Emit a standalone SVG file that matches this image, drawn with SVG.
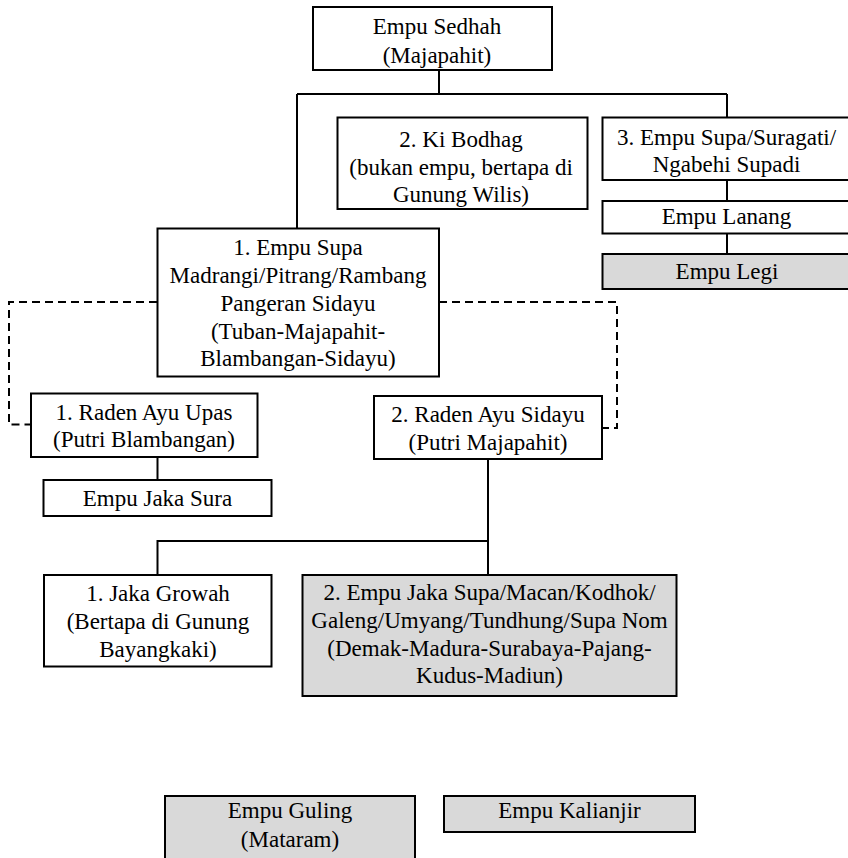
<svg xmlns="http://www.w3.org/2000/svg" width="848" height="858" viewBox="0 0 848 858">
<style>
.box{fill:#ffffff;stroke:#000;stroke-width:2}
.gray{fill:#d9d9d9}
.ln{stroke:#000;stroke-width:2;fill:none}
.dash{stroke-dasharray:8 5}
text{font-family:'Liberation Serif','Times New Roman',serif;font-size:23px;text-anchor:middle;fill:#000}
</style>
<rect width="848" height="858" fill="#ffffff"/>
<g id="connectors">
<path class="ln" d="M439 70V94M297 94H727M297 94V228M727 94V117"/>
<path class="ln" d="M727 180V201M727 233V254"/>
<path class="ln dash" d="M157 302H9V424.5H31M439 302H617V428H602"/>
<path class="ln" d="M157.5 457V480"/>
<path class="ln" d="M488 459V575M488 541H157.5V575"/>
</g>
<g id="n-sedhah">
<rect class="box" x="313" y="7" width="239" height="63"/>
<text x="437" y="34">Empu Sedhah</text>
<text x="437" y="62.5">(Majapahit)</text>
</g>
<g id="n-bodhag">
<rect class="box" x="337.5" y="117.5" width="250" height="91.5"/>
<text x="461" y="146.5">2. Ki Bodhag</text>
<text x="461" y="175">(bukan empu, bertapa di</text>
<text x="461" y="202">Gunung Wilis)</text>
</g>
<g id="n-supa3">
<rect class="box" x="602.5" y="117.5" width="247" height="62.5"/>
<text x="726.5" y="144.5">3. Empu Supa/Suragati/</text>
<text x="726.5" y="171.5">Ngabehi Supadi</text>
</g>
<g id="n-lanang">
<rect class="box" x="602.5" y="201" width="247" height="32.5"/>
<text x="726.5" y="224">Empu Lanang</text>
</g>
<g id="n-legi">
<rect class="box gray" x="602.5" y="254" width="247" height="35"/>
<text x="727" y="278.5">Empu Legi</text>
</g>
<g id="n-supa1">
<rect class="box" x="157.5" y="228.5" width="281.5" height="148"/>
<text x="298" y="255">1. Empu Supa</text>
<text x="298" y="283">Madrangi/Pitrang/Rambang</text>
<text x="298" y="310.5">Pangeran Sidayu</text>
<text x="298" y="338.5">(Tuban-Majapahit-</text>
<text x="298" y="366">Blambangan-Sidayu)</text>
</g>
<g id="n-upas">
<rect class="box" x="31" y="393.5" width="226.5" height="63.5"/>
<text x="144" y="419.5">1. Raden Ayu Upas</text>
<text x="144" y="447">(Putri Blambangan)</text>
</g>
<g id="n-sidayu">
<rect class="box" x="374" y="396" width="228" height="63"/>
<text x="488" y="422">2. Raden Ayu Sidayu</text>
<text x="488" y="449.5">(Putri Majapahit)</text>
</g>
<g id="n-jakasura">
<rect class="box" x="43.5" y="480" width="228" height="36"/>
<text x="157.5" y="506">Empu Jaka Sura</text>
</g>
<g id="n-growah">
<rect class="box" x="44" y="575" width="227.5" height="91.5"/>
<text x="158" y="601">1. Jaka Growah</text>
<text x="158" y="629">(Bertapa di Gunung</text>
<text x="158" y="656.5">Bayangkaki)</text>
</g>
<g id="n-jakasupa">
<rect class="box gray" x="302.5" y="575" width="374" height="121"/>
<text x="489.5" y="600">2. Empu Jaka Supa/Macan/Kodhok/</text>
<text x="489.5" y="628">Galeng/Umyang/Tundhung/Supa Nom</text>
<text x="489.5" y="655.5">(Demak-Madura-Surabaya-Pajang-</text>
<text x="489.5" y="683">Kudus-Madiun)</text>
</g>
<g id="n-guling">
<rect class="box gray" x="165" y="796" width="250" height="70"/>
<text x="290" y="817.5">Empu Guling</text>
<text x="290" y="846.5">(Mataram)</text>
</g>
<g id="n-kalianjir">
<rect class="box gray" x="444" y="796" width="251" height="36"/>
<text x="569.5" y="817.5">Empu Kalianjir</text>
</g>
</svg>
